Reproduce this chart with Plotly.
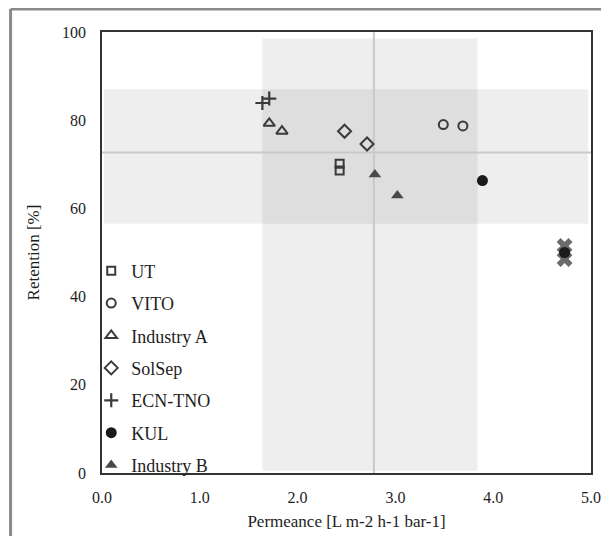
import plotly.graph_objects as go

# ---- data ----
series_names = ["UT", "VITO", "Industry A", "SolSep", "ECN-TNO", "KUL", "Industry B"]
ut_x = [2.43, 2.43]
ut_y = [70.1, 68.6]
vito_x = [3.49, 3.69]
vito_y = [79.0, 78.7]
inda_x = [1.71, 1.84]
inda_y = [79.3, 77.5]
solsep_x = [2.48, 2.71]
solsep_y = [77.5, 74.6]
ecn_x = [1.64, 1.71]
ecn_y = [83.9, 84.9]
kul_x = [3.89, 4.73]
kul_y = [66.3, 50.0]
indb_x = [2.79, 3.02]
indb_y = [67.7, 62.9]
other_x = [4.73, 4.73]
other_y = [51.5, 48.5]

mean_perm = 2.78
perm_band = [1.64, 3.84]
mean_ret = 72.7
ret_band = [56.5, 87.0]

x_ticks = [0, 1, 2, 3, 4, 5]
x_ticktext = ["0.0", "1.0", "2.0", "3.0", "4.0", "5.0"]
y_ticks = [0, 20, 40, 60, 80, 100]

FONT = "Liberation Serif"
EDGE = "#3a3a3a"

fig = go.Figure()

def add(name, xs, ys, symbol, size, color, line_color, lw, showlegend=True):
    fig.add_trace(go.Scatter(
        x=xs, y=ys, mode="markers", name=name, legendgroup=name,
        showlegend=showlegend,
        marker=dict(symbol=symbol, size=size, color=color,
                    line=dict(color=line_color, width=lw)),
    ))

# unlabeled gray X drawn first (underneath the KUL dot)
add("other", other_x, other_y, "x", 14, "#6a6a6a", "#6a6a6a", 0, showlegend=False)
add("UT", ut_x, ut_y, "square-open", 8, EDGE, EDGE, 2)
add("VITO", vito_x, vito_y, "circle-open", 9, EDGE, EDGE, 2)
add("Industry A", inda_x, inda_y, "triangle-up-open", 10, EDGE, EDGE, 2)
add("SolSep", solsep_x, solsep_y, "diamond-open", 10, EDGE, EDGE, 2)
add("ECN-TNO", ecn_x, ecn_y, "cross-thin-open", 10, EDGE, EDGE, 2.2)
add("KUL", kul_x, kul_y, "circle", 11, "#1a1a1a", "#1a1a1a", 0)
add("Industry B", indb_x, indb_y, "triangle-up", 11, "#4a4a4a", "#4a4a4a", 0)

shapes = [
    dict(type="rect", xref="x", yref="y", x0=0.02, x1=4.97, y0=ret_band[0], y1=ret_band[1],
         fillcolor="rgba(0,0,0,0.065)", line=dict(width=0), layer="below"),
    dict(type="rect", xref="x", yref="y", x0=perm_band[0], x1=perm_band[1], y0=0.5, y1=98.5,
         fillcolor="rgba(0,0,0,0.065)", line=dict(width=0), layer="below"),
    dict(type="line", xref="x", yref="y", x0=0, x1=5, y0=mean_ret, y1=mean_ret,
         line=dict(color="#c9c9c9", width=2), layer="below"),
    dict(type="line", xref="x", yref="y", x0=mean_perm, x1=mean_perm, y0=0, y1=100,
         line=dict(color="#c9c9c9", width=2), layer="below"),
    dict(type="line", xref="paper", yref="paper", x0=-0.187, x1=1.04, y0=1.052, y1=1.052,
         line=dict(color="#8a8a8a", width=3)),
    dict(type="line", xref="paper", yref="paper", x0=-0.187, x1=-0.187, y0=1.052, y1=-0.16,
         line=dict(color="#8a8a8a", width=3)),
]

fig.update_layout(
    width=601, height=528,
    margin=dict(l=94, r=8, t=24, b=57),
    paper_bgcolor="white", plot_bgcolor="white",
    font=dict(family=FONT, size=16, color="#1e1e1e"),
    shapes=shapes,
    showlegend=True,
    legend=dict(
        x=-0.022, y=0.50, xanchor="left", yanchor="top",
        bgcolor="rgba(0,0,0,0)", borderwidth=0,
        font=dict(family=FONT, size=18, color="#1e1e1e"),
        tracegroupgap=6, itemwidth=30,
    ),
    xaxis=dict(
        range=[0, 5], tickvals=x_ticks, ticktext=x_ticktext,
        showgrid=False, zeroline=False, ticks="",
        showline=True, linecolor="#333333", linewidth=1.5, mirror=True,
        ticklabelstandoff=9,
        title=dict(text="Permeance [L m-2 h-1 bar-1]", font=dict(family=FONT, size=17), standoff=10),
    ),
    yaxis=dict(
        range=[0, 100], tickvals=y_ticks,
        showgrid=False, zeroline=False, ticks="",
        showline=True, linecolor="#333333", linewidth=1.5, mirror=True,
        ticklabelstandoff=11,
        title=dict(text="Retention [%]", font=dict(family=FONT, size=17), standoff=18),
    ),
)

fig.write_html("out.html")
